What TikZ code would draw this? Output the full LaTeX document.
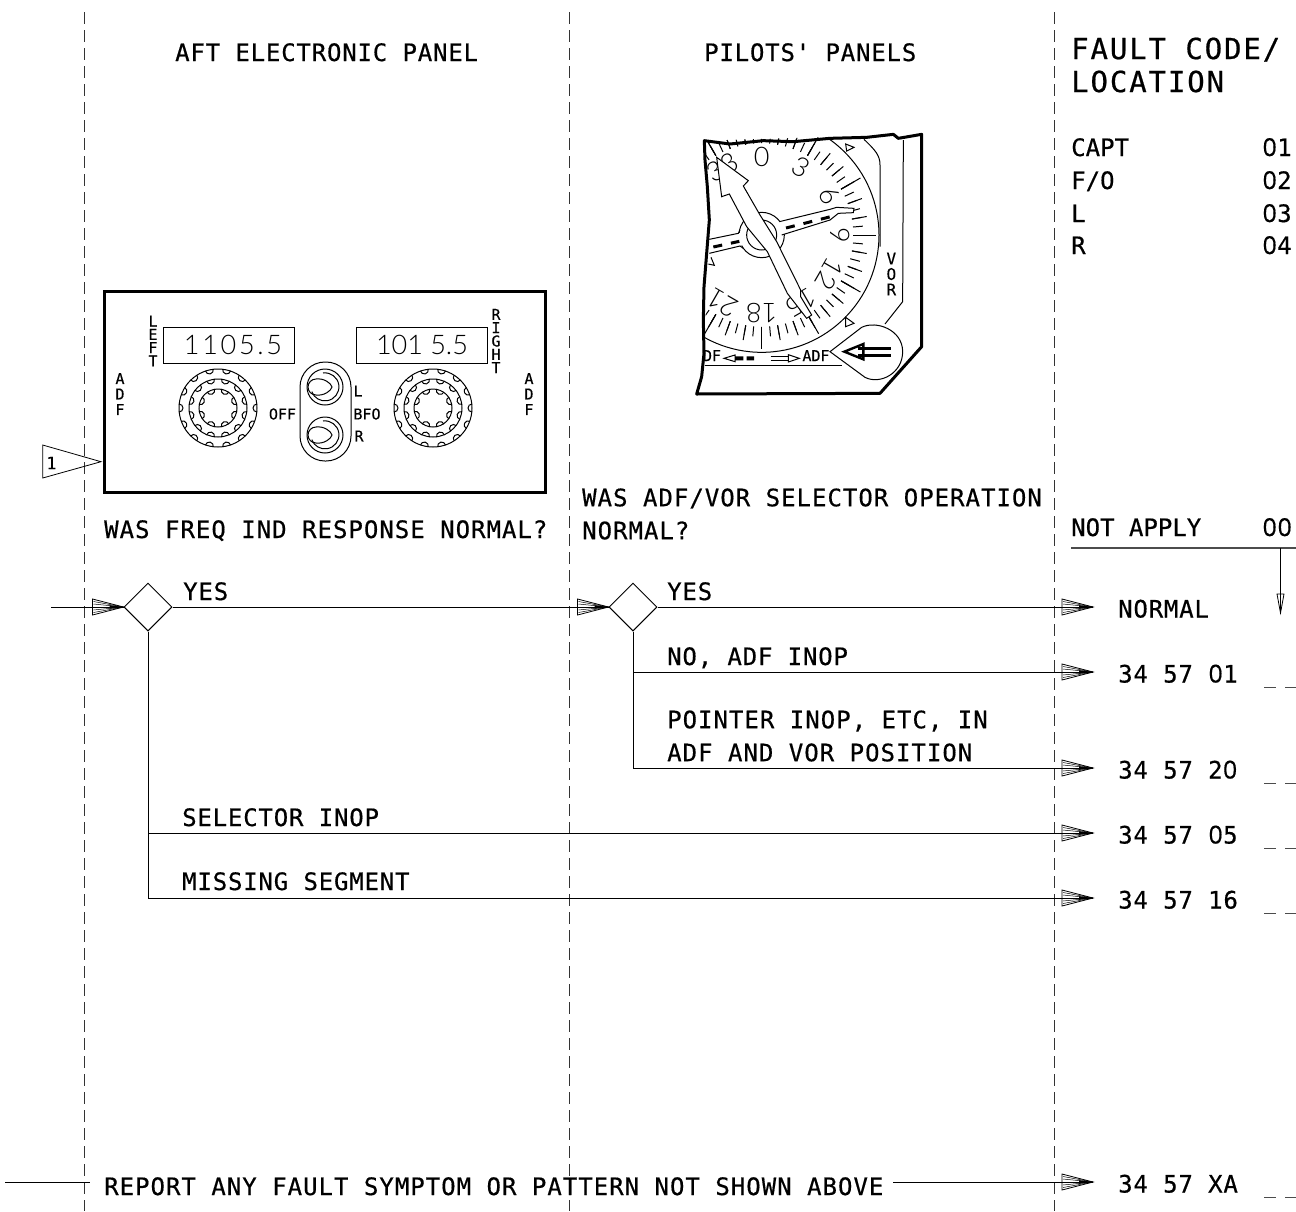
\documentclass[tikz,border=0pt]{standalone}
\usepackage{fontspec}
\usepackage{xcolor}
\usetikzlibrary{shapes.geometric, arrows.meta, positioning, calc}
\setmainfont{DejaVu Sans Mono}[FakeBold=.4]
\newfontfamily\labelfont{DejaVu Sans Mono}[LetterSpace=3.4, FakeBold=.5]
\newfontfamily\widefont{DejaVu Sans Mono}[LetterSpace=4.2, FakeBold=.5]
\newfontfamily\listfont{DejaVu Sans Mono}[FakeBold=.5]
\newfontfamily\headfont{DejaVu Sans Mono}[LetterSpace=6.5, FakeBold=.6]
\newfontfamily\segfont{Lato Light}
\newfontfamily\zerofont{Open Sans}[Scale=1.03, FakeBold=.5]
\newcommand{\zr}{\makebox[15pt]{\zerofont 0}}

\begin{document}
\begin{tikzpicture}[
    x=1pt, y=-1pt,
    column/.style={draw=black!80, line width=1pt, dash pattern=on 12pt off 6pt},
    flow/.style={draw=black, line width=1pt},
    word/.style={anchor=base west, inner sep=0pt, font=\labelfont\fontsize{24}{33}\selectfont},
    longword/.style={word, font=\widefont\fontsize{24}{33}\selectfont},
    entry/.style={word, font=\listfont\fontsize{24}{33}\selectfont},
    lines/.style={anchor=west, inner sep=0pt, align=left, font=\widefont\fontsize{24}{33}\selectfont},
    heading/.style={lines, font=\headfont\fontsize{29}{33}\selectfont},
    code/.style={anchor=west, inner sep=0pt, inner xsep=25pt, text height=21pt, text depth=0pt, font=\labelfont\fontsize{24}{33}\selectfont},
    blank/.style={draw=black!70, line width=1pt, dash pattern=on 12pt off 9pt},
    decision/.style={diamond, draw=black, line width=1pt, inner sep=0pt, minimum width=48pt, minimum height=48pt, aspect=1},
    tiny/.style={inner sep=0pt, align=center, font=\fontsize{15}{13.3}\selectfont},
    display/.style={draw=black, line width=1pt, minimum width=131pt, minimum height=36pt, inner sep=0pt, font=\segfont\fontsize{27}{27}\selectfont},
    dial/.style={inner sep=0pt, font=\segfont\fontsize{27}{27}\selectfont},
    hatchtip/.pic={
        \draw[line width=.8pt] (-31,-8) -- (0,0) -- (-31,8) -- cycle;
        \foreach \w in {-5.5,-3,3,5.5}
            \draw[line width=.5pt] (-30,\w) -- (0,0);
        \fill (-14,-1.8) -- (0,0) -- (-14,1.8) -- cycle;
    },
    droptip/.pic={
        \draw[line width=.8pt] (-3.5,-19) -- (0,0) -- (3.5,-19) -- cycle;
    },
    knob/.pic={
        \draw[line width=1pt] (0,0) circle (39) (0,0) circle (29) (0,0) circle (19);
        \foreach \n/\r/\o in {14/39/0,12/29/15,8/19/22.5}
            \foreach \k in {1,...,\n}
                \draw[line width=1pt, rotate=\k*360/\n+\o] (\r,-4) arc[start angle=-90, end angle=-270, radius=4];
    },
    toggle/.pic={
        \draw[line width=1pt] (0,0) circle (18);
        \draw[line width=1pt] (-2,-14) arc[start angle=-98, end angle=160, radius=14];
        \draw[line width=1pt] (-9,-8) .. controls (-1,-9) and (6,-4) .. (7,0) .. controls (6,4) and (-1,9) .. (-9,8) arc[start angle=90, end angle=270, radius=8] -- cycle;
    },
]
\useasboundingbox (0,0) rectangle (1296,1211);

% Column rules
\foreach \x in {84,569,1054}
    \draw[column] (\x,12) -- (\x,1211);

% Headings
\node[word] at (175,61) {AFT ELECTRONIC PANEL};
\node[word] at (704,61) {PILOTS' PANELS};
\node[heading] (faulthead) at (1071,65) {FAULT CODE/\\LOCATION};

% Location list
\node[entry] (capt) at (1071,156) {CAPT};
\node[entry] (fo) at (1071,189) {F/O};
\node[entry] (lside) at (1071,222) {L};
\node[entry] (rside) at (1071,254) {R};
\node[entry] at (1262,156) {\zr1};
\node[entry] at (1262,189) {\zr2};
\node[entry] at (1262,222) {\zr3};
\node[entry] at (1262,254) {\zr4};

% Aft panel
\draw[line width=3pt] (104.5,291) rectangle (545.5,492);
\node[display] (leftfreq) at (229,345) {\hspace*{8pt}\addfontfeature{LetterSpace=10}1105.5};
\node[display] (rightfreq) at (422,345) {101 5.5};
\node[tiny] at (153,341) {L\\E\\F\\T};
\node[tiny] at (496,341) {R\\I\\G\\H\\T};
\node[tiny, font=\fontsize{15}{15.5}\selectfont] at (120,394) {A\\D\\F};
\node[tiny, font=\fontsize{15}{15.5}\selectfont] at (529,394) {A\\D\\F};
\node[tiny] at (282.5,414) {OFF};
\node[tiny] at (367,414) {BFO};
\node[tiny] at (358,391) {L};
\node[tiny] at (359,436) {R};
\pic at (218,408) {knob};
\pic at (433,408) {knob};
\draw[line width=1pt, rounded corners=25pt] (300,362) rectangle (351,461);
\pic at (325,387) {toggle};
\pic at (325,435) {toggle};

% Flag
\draw[line width=.8pt] (42.7,445) -- (101,461.7) -- (42.7,478) -- cycle;
\node[inner sep=0pt, font=\fontsize{17}{17}\selectfont] (flag) at (51.5,463) {1};

% Pilots' instrument
\begin{scope}[shift={(680,120)}, scale=1/3]
    \begin{scope}
        \clip (73,62) -- (725,43) -- (725,680) -- (600,820) -- (50,822) -- (72,700) -- (88,300) -- cycle;
        \draw[line width=1pt] (245,345) circle (352);
        \foreach \h in {0,5,...,355}
            \draw[line width=1pt, shift={(245,345)}, rotate=-\h] (0,-275) -- (0,-305);
        \foreach \h in {0,10,...,350}
            \draw[line width=1pt, shift={(245,345)}, rotate=-\h] (0,-275) -- (0,-320);
        \foreach \h in {0,30,...,330}
            \draw[line width=1pt, shift={(245,345)}, rotate=-\h] (0,-275) -- (0,-342);
        \foreach \h/\t in {0/0,30/3,60/6,90/9,120/12,150/15,180/18,210/21,330/33}
            \node[dial, rotate=-\h] at ({245+235*sin(\h)},{345-235*cos(\h)}) {\t};
        % lower band
        \fill[white] (40,698) -- (470,698) -- (470,830) -- (40,830) -- cycle;
        \draw[line width=1pt] (75,736) -- (485,736);
        \node[tiny, font=\fontsize{15}{15}\selectfont] at (96,707) {DF};
        \node[tiny, font=\fontsize{15}{15}\selectfont] at (408,707) {ADF};
        \draw[line width=1pt] (132,715) -- (165,705) -- (165,725) -- cycle;
        \fill (165,709) rectangle (190,721) (200,709) rectangle (222,721);
        \draw[line width=1pt] (272,710) -- (325,710) (272,720) -- (325,720);
        \draw[line width=1pt] (325,704) -- (358,715) -- (325,726) -- cycle;
    \end{scope}
    % pointers
    \draw[line width=1pt, fill=white] (245,345) circle (68);
    \fill[white] (245,320) -- (298,305) -- (450,268) -- (470,262) -- (522,265) -- (520,278) -- (475,280) -- (450,300) -- (305,345) -- (245,360) -- cycle;
    \draw[line width=1pt] (298,305) -- (450,268) -- (470,262) -- (522,265) -- (520,278) -- (475,280) -- (450,300) -- (305,345);
    \fill[white] (88,358) -- (175,340) -- (245,320) -- (245,360) -- (180,378) -- (88,400) -- cycle;
    \draw[line width=1pt] (88,358) -- (175,340) -- (180,330) (88,400) -- (180,378) -- (190,385);
    \draw[line width=3pt, dash pattern=on 9pt off 9pt] (318,324) -- (452,290) (100,381) -- (178,364);
    \draw[line width=1pt] (245,345) circle (45);
    \draw[line width=1pt, fill=white] (110,112) -- (205,182) -- (190,198) -- (240,285) -- (290,365) -- (362,510) -- (362,530) -- (395,585) -- (380,595) -- (322,520) -- (262,395) -- (200,320) -- (148,222) -- (125,230) -- cycle;
    % markers
    \draw[line width=1pt] (497,72) -- (522,82) -- (500,93) -- cycle;
    \draw[line width=1pt] (497,592) -- (522,610) -- (497,620) -- cycle;
    \draw[line width=1pt] (85,432) -- (103,436) -- (93,412);
    % bezel
    \draw[line width=1pt] (552,58) .. controls (585,90) and (600,105) .. (600,135) -- (600,380);
    \draw[line width=1pt] (670,60) -- (668,545) -- (615,612);
    \node[tiny, font=\fontsize{16}{15.5}\selectfont] at (634,462) {V\\O\\R};
    % selector
    \draw[line width=1pt, fill=white] (450,695) -- (545,622) .. controls (590,600) and (668,630) .. (668,695) .. controls (668,760) and (600,795) .. (555,772) -- cycle;
    \draw[line width=2.4pt] (550,672) -- (493,695) -- (550,718) -- cycle;
    \draw[line width=2.4pt] (535,686) -- (632,686) (535,706) -- (632,706);
    % outline
    \draw[line width=3pt, line join=round] (73,62) -- (150,72) -- (250,62) -- (340,65) -- (450,55) -- (560,52) -- (640,43) -- (655,55) -- (725,43) -- (725,680) -- (600,820) -- (50,822) -- (65,770) -- (72,700) -- (70,600) -- (72,500) -- (80,400) -- (88,300) -- (82,200) -- (75,120) -- cycle;
\end{scope}

% Questions
\node[longword] (qfreq) at (104,538) {WAS FREQ IND RESPONSE NORMAL?};
\node[lines] (qsel) at (582,514) {WAS ADF/VOR SELECTOR OPERATION\\NORMAL?};
\node[entry] (napply) at (1071,536) {NOT APPLY};
\node[entry] (nzero) at (1262,536) {\zr\zr};

% Flow nodes
\coordinate (entry) at (51,607);
\node[decision] (freq) at (148,607) {};
\node[decision] (sel) at (633,607) {};
\node[code] (normal) at (1093,607) {NORMAL};
\node[code] (c01) at (1093,672) {34 57 \zr1};
\node[code] (c20) at (1093,768) {34 57 2\zr};
\node[code] (c05) at (1093,833) {34 57 \zr5};
\node[code] (c16) at (1093,898) {34 57 16};
\node[code] (cxa) at (1093,1182) {34 57 XA};

% Branch labels
\node[word] at (183,600) {YES};
\node[word] at (667,600) {YES};
\node[word] at (667,665) {NO, ADF INOP};
\node[lines] at (667,736) {POINTER INOP, ETC, IN\\ADF AND VOR POSITION};
\node[word] at (182,826) {SELECTOR INOP};
\node[word] at (182,890) {MISSING SEGMENT};
\node[longword] (report) at (104,1195) {REPORT ANY FAULT SYMPTOM OR PATTERN NOT SHOWN ABOVE};

% Connectors
\draw[flow] (entry) -- (freq.west) pic {hatchtip};
\draw[flow] (freq.east) -- (sel.west) pic {hatchtip};
\draw[flow] (sel.east) -- (normal.west) pic {hatchtip};
\draw[flow] (sel.south) |- (c01.west) pic {hatchtip};
\draw[flow] (sel.south) |- (c20.west) pic {hatchtip};
\draw[flow] (freq.south) |- (c05.west) pic {hatchtip};
\draw[flow] (freq.south) |- (c16.west) pic {hatchtip};
\coordinate (repin) at (5,1182);
\coordinate (repstop) at (90,1182);
\coordinate (repgo) at (893,1182);
\draw[flow] (repin) -- (repstop);
\draw[flow] (repgo) -- (cxa.west) pic {hatchtip};

% Not apply
\coordinate (ruleleft) at (1071,548);
\coordinate (ruleright) at (1296,548);
\coordinate (dropstart) at (1280.5,548);
\coordinate (dropend) at (1280.5,613);
\draw[line width=1.3pt, draw=black!70] (ruleleft) -- (ruleright);
\draw[flow] (dropstart) -- (dropend) pic {droptip};

% Blank fields
\foreach \c in {c01,c20,c05,c16,cxa}
    \draw[blank] ([shift={(171,15)}]\c.west) -- ([shift={(203,15)}]\c.west);

\end{tikzpicture}
\end{document}
